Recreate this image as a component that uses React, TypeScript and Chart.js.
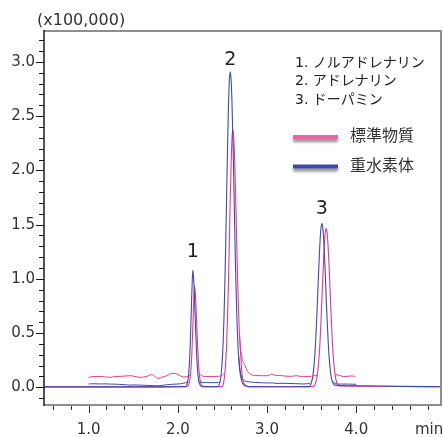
import React, { useEffect, useRef } from "react";
import { Chart, registerables } from "chart.js";

Chart.register(...registerables);

type Pt = [number, number | null];

// ---- axis ranges / ticks ----
const xMin = 0.5;
const xMax = 4.95;
const yMin = -0.163;
const yMax = 3.285;
const xTickStep = 0.2;
const yTickStep = 0.1;
const xLabelEvery = 1.0;
const yLabelEvery = 0.5;
const yUnitLabel = "(x100,000)";
const xUnitLabel = "min";

// ---- legend / annotation texts ----
const compoundNames = ["1. ノルアドレナリン", "2. アドレナリン", "3. ドーパミン"];
const seriesNames = ["標準物質", "重水素体"];
const peakLabels = ["1", "2", "3"];
const peakLabelX = [2.168, 2.587, 3.615];
const peakLabelY = [1.25, 3.02, 1.64];

// ---- peaks (time [min], intensity [x100,000]) ----
const bluePeak1: Pt[] = [
  [2.08, 0.006], [2.1, 0.02], [2.11, 0.05], [2.12, 0.11], [2.13, 0.22], [2.14, 0.42],
  [2.15, 0.68], [2.16, 0.94], [2.168, 1.08], [2.176, 1.02], [2.186, 0.85], [2.196, 0.62],
  [2.206, 0.4], [2.216, 0.22], [2.228, 0.1], [2.24, 0.04], [2.26, 0.012], [2.28, 0.006],
];
const pinkPeak1: Pt[] = [
  [2.1, 0.006], [2.12, 0.02], [2.13, 0.05], [2.14, 0.1], [2.15, 0.2], [2.16, 0.37],
  [2.17, 0.6], [2.18, 0.83], [2.187, 0.933], [2.195, 0.88], [2.205, 0.72], [2.215, 0.52],
  [2.225, 0.33], [2.235, 0.18], [2.247, 0.08], [2.26, 0.03], [2.28, 0.01], [2.3, 0.006],
];
const bluePeak2: Pt[] = [
  [2.44, 0.006], [2.467, 0.03], [2.487, 0.13], [2.507, 0.39], [2.517, 0.63], [2.527, 0.95],
  [2.537, 1.33], [2.547, 1.77], [2.557, 2.2], [2.567, 2.57], [2.577, 2.82], [2.587, 2.91],
  [2.597, 2.84], [2.607, 2.63], [2.617, 2.3], [2.627, 1.92], [2.637, 1.5], [2.647, 1.1],
  [2.657, 0.78], [2.667, 0.52], [2.68, 0.3], [2.695, 0.15], [2.71, 0.08],
];
const pinkPeak2: Pt[] = [
  [2.49, 0.006], [2.517, 0.06], [2.537, 0.23], [2.547, 0.4], [2.557, 0.64], [2.567, 0.95],
  [2.577, 1.32], [2.587, 1.71], [2.597, 2.05], [2.607, 2.29], [2.617, 2.376], [2.627, 2.3],
  [2.637, 2.1], [2.647, 1.8], [2.657, 1.45], [2.667, 1.1], [2.677, 0.8], [2.69, 0.5],
  [2.705, 0.3],
];
const bluePeak3: Pt[] = [
  [3.47, 0.006], [3.495, 0.036], [3.515, 0.115], [3.535, 0.29], [3.545, 0.43], [3.555, 0.6],
  [3.565, 0.79], [3.575, 1.0], [3.585, 1.2], [3.595, 1.36], [3.605, 1.47], [3.615, 1.51],
  [3.625, 1.47], [3.635, 1.36], [3.645, 1.2], [3.655, 1.0], [3.665, 0.79], [3.675, 0.6],
  [3.685, 0.43], [3.695, 0.29], [3.715, 0.12], [3.735, 0.045], [3.76, 0.02],
];
const pinkPeak3: Pt[] = [
  [3.52, 0.006], [3.543, 0.035], [3.563, 0.11], [3.583, 0.28], [3.593, 0.41], [3.603, 0.58],
  [3.613, 0.77], [3.623, 0.97], [3.633, 1.16], [3.643, 1.32], [3.653, 1.43], [3.663, 1.464],
  [3.673, 1.43], [3.683, 1.32], [3.693, 1.16], [3.703, 0.97], [3.713, 0.77], [3.723, 0.58],
  [3.733, 0.41], [3.743, 0.28], [3.763, 0.115], [3.783, 0.04], [3.81, 0.015],
];

// ---- full traces ----
const blueMain: Pt[] = [
  [0.5, 0.004], [1.0, 0.004], [1.5, 0.004], [2.0, 0.005],
  ...bluePeak1,
  [2.35, 0.005],
  ...bluePeak2,
  [2.73, 0.03], [2.76, 0.012], [2.8, 0.006], [3.0, 0.005], [3.3, 0.005],
  ...bluePeak3,
  [3.8, 0.016], [4.0, 0.014], [4.5, 0.009], [4.95, 0.005],
];
const pinkMain: Pt[] = [
  [0.5, 0.004], [1.0, 0.004], [1.5, 0.004], [2.05, 0.005],
  ...pinkPeak1,
  [2.4, 0.005],
  ...pinkPeak2,
  [2.72, 0.12], [2.74, 0.04], [2.77, 0.012], [2.8, 0.006], [3.0, 0.005], [3.4, 0.005],
  ...pinkPeak3,
  [3.85, 0.012], [4.0, 0.011], [4.5, 0.008], [4.95, 0.005],
];
const blueNoisy: Pt[] = [
  [1.0, 0.031], [1.06, 0.033], [1.13, 0.031], [1.2, 0.032], [1.24, 0.03], [1.3, 0.029],
  [1.35, 0.027], [1.41, 0.024], [1.465, 0.02], [1.52, 0.022], [1.58, 0.02], [1.65, 0.018],
  [1.71, 0.016], [1.78, 0.014], [1.86, 0.022], [1.93, 0.028], [1.99, 0.03], [2.06, 0.036],
  [2.11, 0.05], [2.17, null],
  [2.23, 0.06], [2.26, 0.046], [2.32, 0.044], [2.38, 0.043], [2.44, 0.044], [2.475, 0.05],
  [2.58, null],
  [2.68, 0.3], [2.7, 0.15], [2.72, 0.085], [2.75, 0.06], [2.8, 0.05], [2.85, 0.046],
  [2.9, 0.044], [3.0, 0.04], [3.06, 0.041], [3.1, 0.036], [3.2, 0.037], [3.3, 0.034],
  [3.41, 0.031], [3.48, 0.035], [3.6, null],
  [3.73, 0.06], [3.76, 0.035], [3.8, 0.03], [3.9, 0.03], [4.0, 0.028],
];
const pinkNoisy: Pt[] = [
  [1.0, 0.092], [1.06, 0.1], [1.13, 0.101], [1.19, 0.095], [1.24, 0.092], [1.3, 0.1],
  [1.353, 0.101], [1.41, 0.104], [1.465, 0.107], [1.52, 0.1], [1.578, 0.092], [1.652, 0.101],
  [1.709, 0.117], [1.745, 0.1], [1.783, 0.08], [1.82, 0.092], [1.858, 0.101], [1.9, 0.118],
  [1.933, 0.129], [1.989, 0.123], [2.03, 0.105], [2.063, 0.095], [2.1, 0.098], [2.14, 0.11],
  [2.19, null],
  [2.24, 0.13], [2.27, 0.105], [2.32, 0.1], [2.38, 0.1], [2.44, 0.101], [2.5, 0.11],
  [2.52, 0.13], [2.6, null],
  [2.69, 0.5], [2.705, 0.35], [2.72, 0.27], [2.755, 0.2], [2.78, 0.15], [2.81, 0.125],
  [2.848, 0.11], [2.9, 0.108], [2.95, 0.107], [2.998, 0.107], [3.03, 0.113], [3.054, 0.123],
  [3.09, 0.11], [3.129, 0.11], [3.2, 0.104], [3.26, 0.101], [3.335, 0.107], [3.37, 0.101],
  [3.409, 0.101], [3.45, 0.1], [3.5, 0.102], [3.56, 0.11], [3.66, null],
  [3.765, 0.12], [3.8, 0.11], [3.82, 0.107], [3.86, 0.1], [3.896, 0.101], [3.95, 0.105],
  [3.989, 0.1],
];

const PINK = "#e8378f";
const BLUE = "#3e4ba8";
const PINK_LEGEND = "#ec62ab";
const BLUE_LEGEND = "#3f4ca6";
const NUM_FONT = '"DejaVu Sans", "Noto Sans CJK JP", sans-serif';
const JP_FONT = '"DejaVu Sans", "Noto Sans CJK JP", sans-serif';

const toXY = (arr: Pt[]) => arr.map(([x, y]) => ({ x, y }));
const isMultiple = (v: number, step: number) => {
  const r = v / step;
  return Math.abs(r - Math.round(r)) < 1e-6;
};

const decorPlugin = {
  id: "decor",
  afterDraw(chart: any) {
    const { ctx, chartArea: a, scales } = chart;
    const xs = scales.x;
    const ys = scales.y;
    ctx.save();
    // frame
    ctx.strokeStyle = "#8e8e8e";
    ctx.lineWidth = 2;
    ctx.beginPath();
    ctx.moveTo(a.left, a.top);
    ctx.lineTo(a.right, a.top);
    ctx.lineTo(a.right, a.bottom);
    ctx.lineTo(a.left, a.bottom);
    ctx.stroke();
    ctx.strokeStyle = "#1a1a1a";
    ctx.lineWidth = 1.5;
    ctx.beginPath();
    ctx.moveTo(a.left, a.top - 1);
    ctx.lineTo(a.left, a.bottom + 1);
    ctx.stroke();

    // tick marks
    ctx.lineWidth = 1;
    ctx.strokeStyle = "#333";
    xs.ticks.forEach((t: any) => {
      const px = Math.round(xs.getPixelForValue(t.value)) + 0.5;
      const major = isMultiple(t.value, xLabelEvery);
      ctx.beginPath();
      ctx.moveTo(px, a.bottom + 1);
      ctx.lineTo(px, a.bottom + (major ? 8 : 5));
      ctx.stroke();
    });
    ctx.strokeStyle = "#1a1a1a";
    ys.ticks.forEach((t: any) => {
      const py = Math.round(ys.getPixelForValue(t.value)) + 0.5;
      const major = isMultiple(t.value, yLabelEvery);
      ctx.beginPath();
      ctx.moveTo(a.left, py);
      ctx.lineTo(a.left - (major ? 8 : 5), py);
      ctx.stroke();
    });

    // unit labels
    ctx.fillStyle = "#333";
    ctx.textBaseline = "middle";
    ctx.textAlign = "left";
    ctx.font = `16px ${NUM_FONT}`;
    ctx.fillText(yUnitLabel, 37, 21);
    ctx.font = `15px ${NUM_FONT}`;
    ctx.fillText(xUnitLabel, 415, 430);

    // peak numbers
    ctx.fillStyle = "#222";
    ctx.textAlign = "center";
    ctx.font = `19px ${NUM_FONT}`;
    peakLabels.forEach((lbl, i) => {
      ctx.fillText(lbl, xs.getPixelForValue(peakLabelX[i]), ys.getPixelForValue(peakLabelY[i]));
    });

    // compound list
    ctx.textAlign = "left";
    ctx.font = `14px ${JP_FONT}`;
    compoundNames.forEach((n, i) => {
      ctx.fillText(n, 295, 63 + i * 18.5);
    });

    // legend lines with shadow
    const legendColors = [PINK_LEGEND, BLUE_LEGEND];
    seriesNames.forEach((n, i) => {
      const y = 137 + i * 29.5;
      ctx.save();
      ctx.shadowColor = "rgba(0,0,0,0.45)";
      ctx.shadowBlur = 3;
      ctx.shadowOffsetY = 3;
      ctx.strokeStyle = legendColors[i];
      ctx.lineWidth = 4;
      ctx.lineCap = "butt";
      ctx.beginPath();
      ctx.moveTo(293, y);
      ctx.lineTo(338, y);
      ctx.stroke();
      ctx.restore();
      ctx.fillStyle = "#333";
      ctx.font = `16px ${JP_FONT}`;
      ctx.fillText(n, 350, y);
    });
    ctx.restore();
  },
};

export default function App() {
  const ref = useRef<HTMLCanvasElement | null>(null);

  useEffect(() => {
    if (!ref.current) return;
    const mk = (data: Pt[], color: string, width: number) => ({
      data: toXY(data),
      borderColor: color,
      borderWidth: width,
      pointRadius: 0,
      fill: false,
      spanGaps: false,
      cubicInterpolationMode: "monotone" as const,
    });
    const chart = new Chart(ref.current, {
      type: "line",
      data: {
        datasets: [
          mk(blueNoisy, BLUE, 1),
          mk(pinkNoisy, PINK, 1),
          mk(blueMain, BLUE, 1.1),
          mk(pinkMain, PINK, 1.1),
        ],
      },
      options: {
        animation: false,
        responsive: false,
        layout: { padding: { top: 31, right: 2, left: 0, bottom: 0 } },
        plugins: { legend: { display: false }, tooltip: { enabled: false } },
        scales: {
          x: {
            type: "linear",
            min: xMin,
            max: xMax,
            afterFit: (s: any) => {
              s.height = 32;
            },
            border: { display: false },
            grid: { display: true, drawOnChartArea: false, drawTicks: true, tickLength: 8, tickColor: "rgba(0,0,0,0)" },
            ticks: {
              stepSize: xTickStep,
              includeBounds: false,
              autoSkip: false,
              maxRotation: 0,
              padding: 8,
              color: "#333",
              font: { family: NUM_FONT, size: 15 },
              callback: (v: any) => (isMultiple(Number(v), xLabelEvery) ? Number(v).toFixed(1) : ""),
            },
          },
          y: {
            type: "linear",
            min: yMin,
            max: yMax,
            afterFit: (s: any) => {
              s.width = 44;
            },
            border: { display: false },
            grid: { display: true, drawOnChartArea: false, drawTicks: true, tickLength: 8, tickColor: "rgba(0,0,0,0)" },
            ticks: {
              stepSize: yTickStep,
              includeBounds: false,
              autoSkip: false,
              padding: 1,
              color: "#333",
              font: { family: NUM_FONT, size: 15 },
              callback: (v: any) => (isMultiple(Number(v), yLabelEvery) ? Number(v).toFixed(1) : ""),
            },
          },
        },
      },
      plugins: [decorPlugin],
    } as any);
    return () => chart.destroy();
  }, []);

  return (
    <div style={{ position: "fixed", left: 0, top: 0, width: 443, height: 437, background: "#fff" }}>
      <canvas ref={ref} width={443} height={437} />
    </div>
  );
}
